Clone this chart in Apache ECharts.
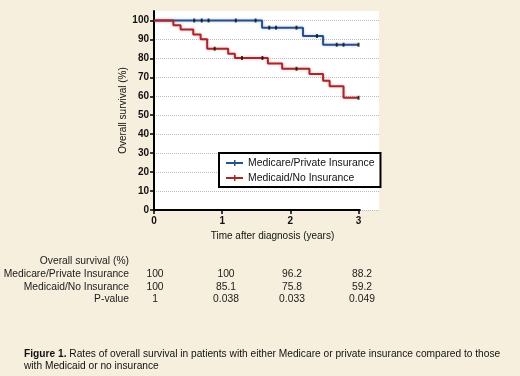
<!DOCTYPE html>
<html>
<head>
<meta charset="utf-8">
<script src="https://cdn.jsdelivr.net/npm/echarts@6/dist/echarts.min.js"></script>
<style>
  html, body { margin: 0; padding: 0; background: #f6efdd; }
  #chart { width: 520px; height: 376px; }
</style>
</head>
<body>
<div id="chart"></div>
<script>
// Kaplan-Meier steps: [time in years, survival % after the drop]
const medicareSteps = [[0, 100], [1.585, 96.2], [2.185, 91.8], [2.48, 87.2], [3.0, 87.2]]
const medicaidSteps = [
  [0, 100], [0.284, 97.5], [0.39, 95.2], [0.576, 92.6], [0.684, 90.1], [0.78, 85.1],
  [1.088, 82.5], [1.186, 80.2], [1.67, 77.3], [1.88, 74.5], [2.28, 71.7],
  [2.48, 68.2], [2.576, 65.3], [2.78, 59.2], [3.0, 59.2]
]
// censored patients (tick marks)
const medicareCensored = [
  [0.59, 100], [0.7, 100], [0.8, 100], [1.2, 100], [1.49, 100],
  [1.69, 96.2], [1.79, 96.2], [2.09, 96.2], [2.39, 91.8],
  [2.68, 87.2], [2.78, 87.2], [3.0, 87.2]
]
const medicaidCensored = [[0.89, 85.1], [1.29, 80.2], [1.59, 80.2], [2.09, 74.5], [3.0, 59.2]]

const xTicks = [0, 1, 2, 3]
const yTicks = [0, 10, 20, 30, 40, 50, 60, 70, 80, 90, 100]

const tableHeading = 'Overall survival (%)'
const tableRowNames = ['Medicare/Private Insurance', 'Medicaid/No Insurance', 'P-value']
const tableMedicare = ['100', '100', '96.2', '88.2']
const tableMedicaid = ['100', '85.1', '75.8', '59.2']
const tablePValue = ['1', '0.038', '0.033', '0.049']

const captionBold = 'Figure 1.'
const captionLine1 = ' Rates of overall survival in patients with either Medicare or private insurance compared to those'
const captionLine2 = 'with Medicaid or no insurance'

const blue = '#27508c'
const red = '#a8272b'
const font = 'Liberation Sans, Arial, sans-serif'

const myChart = echarts.init(document.getElementById('chart'))

// table laid out under the x axis
let graphics = []
const colX = [155, 226, 292, 362]
const rowY = [261, 274, 287, 299.5]
const txt = (x, y, text, align, extra) => ({
  type: 'text', x: x, y: y, silent: true,
  style: Object.assign({ text: text, align: align, verticalAlign: 'middle', fill: '#1a1a1a', font: '10.3px ' + font }, extra || {})
})
graphics.push(txt(129, rowY[0], tableHeading, 'right'))
const tableRows = [tableMedicare, tableMedicaid, tablePValue]
tableRows.forEach((row, i) => {
  graphics.push(txt(129, rowY[i + 1], tableRowNames[i], 'right'))
  row.forEach((v, j) => graphics.push(txt(colX[j], rowY[i + 1], v, 'center')))
})
// caption
graphics.push({
  type: 'text', x: 24, y: 354, silent: true,
  style: {
    text: '{b|' + captionBold + '}' + captionLine1,
    verticalAlign: 'middle', fill: '#111', font: '10.2px ' + font,
    rich: { b: { fontWeight: 'bold', fontSize: 10.2, fontFamily: font, fill: '#111' } }
  }
})
graphics.push(txt(24, 366, captionLine2, 'left', { font: '10.2px ' + font, fill: '#111' }))

const option = {
  backgroundColor: '#f6efdd',
  animation: false,
  grid: {
    left: 154,
    right: 141,
    top: 11,
    bottom: 166,
    show: true,
    backgroundColor: '#fff',
    borderWidth: 0
  },
  legend: {
    left: 219,
    top: 153,
    orient: 'vertical',
    backgroundColor: '#fff',
    borderColor: '#000',
    borderWidth: 2,
    borderRadius: 0,
    padding: [5, 6, 4, 7],
    itemGap: 5,
    itemWidth: 17,
    itemHeight: 12,
    icon: 'path://M0,2h17v2h-17z M8,0h1.5v6h-1.5z',
    textStyle: { fontSize: 10.4, fontFamily: font, color: '#111' },
    data: ['Medicare/Private Insurance', 'Medicaid/No Insurance']
  },
  xAxis: {
    type: 'value',
    min: 0,
    max: 3.3,
    name: 'Time after diagnosis (years)',
    nameLocation: 'middle',
    nameGap: 21,
    nameTextStyle: { fontSize: 10, fontFamily: font, color: '#111', padding: [0, 0, 0, 12] },
    axisLine: { show: false },
    axisTick: { show: true, customValues: xTicks, length: 4, lineStyle: { color: '#000', width: 1.5 } },
    axisLabel: { customValues: xTicks, margin: 6, fontSize: 10, fontWeight: 'bold', fontFamily: font, color: '#111' },
    splitLine: { show: false }
  },
  yAxis: {
    type: 'value',
    min: 0,
    max: 105,
    name: 'Overall survival (%)',
    nameLocation: 'middle',
    nameGap: 26,
    nameTextStyle: { fontSize: 10, fontFamily: font, color: '#111' },
    axisLine: { show: true, lineStyle: { color: '#000', width: 2 } },
    axisTick: { show: true, customValues: yTicks, length: 4, lineStyle: { color: '#000', width: 1.5 } },
    axisLabel: { customValues: yTicks, margin: 5, fontSize: 10, fontWeight: 'bold', fontFamily: font, color: '#111' },
    splitLine: { show: true, lineStyle: { color: '#bdbdbd', type: 'dotted', width: 1 } }
  },
  graphic: graphics,
  series: [
    {
      name: 'Medicare/Private Insurance',
      type: 'line',
      step: 'end',
      clip: false,
      symbol: 'none',
      data: medicareSteps,
      color: blue,
      lineStyle: { color: blue, width: 2, shadowColor: 'rgba(39,80,140,0.35)', shadowBlur: 3 },
      z: 3,
      markLine: {
        silent: true,
        symbol: 'none',
        label: { show: false },
        lineStyle: { color: '#000', width: 2, type: 'solid' },
        data: [[{ coord: [0, 0] }, { coord: [3.03, 0] }]]
      }
    },
    {
      name: 'Medicaid/No Insurance',
      type: 'line',
      step: 'end',
      clip: false,
      symbol: 'none',
      data: medicaidSteps,
      color: red,
      lineStyle: { color: red, width: 2, shadowColor: 'rgba(168,39,43,0.35)', shadowBlur: 3 },
      z: 3
    },
    {
      name: 'censored-medicare',
      type: 'scatter',
      symbol: 'rect',
      symbolSize: [2, 4],
      itemStyle: { color: '#111' },
      data: medicareCensored,
      z: 4
    },
    {
      name: 'censored-medicaid',
      type: 'scatter',
      symbol: 'rect',
      symbolSize: [2, 4],
      itemStyle: { color: '#111' },
      data: medicaidCensored,
      z: 4
    }
  ]
}
myChart.setOption(option)
window.onresize = myChart.resize
</script>
</body>
</html>
